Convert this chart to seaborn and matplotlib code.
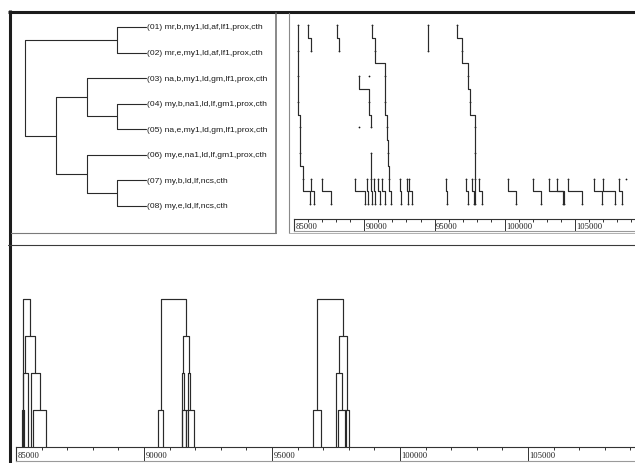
import numpy as np
import pandas as pd
import matplotlib
matplotlib.use("Agg")
import matplotlib.pyplot as plt
import seaborn as sns

# ---------------- data ----------------
seq_labels = [
    "(01) mr,b,my1,ld,af,lf1,prox,cth",
    "(02) mr,e,my1,ld,af,lf1,prox,cth",
    "(03) na,b,my1,ld,gm,lf1,prox,cth",
    "(04) my,b,na1,ld,lf,gm1,prox,cth",
    "(05) na,e,my1,ld,gm,lf1,prox,cth",
    "(06) my,e,na1,ld,lf,gm1,prox,cth",
    "(07) my,b,ld,lf,ncs,cth",
    "(08) my,e,ld,lf,ncs,cth",
]
seq_rows = [1, 2, 3, 4, 5, 6, 7, 8]
# merges: (child a, child b, height); new nodes numbered after leaves
seq_tree_merges = [(0, 1, 0.95), (3, 4, 0.95), (6, 7, 0.95), (2, 9, 1.94),
                   (5, 10, 1.94), (11, 12, 2.97), (8, 13, 4.0)]

# alignment traces: first row and genomic position in each consecutive row
trace_first_row = [1, 1, 1, 1, 1, 1, 3, 6, 3, 5,
                   7, 7, 7, 7, 7, 7, 7, 7, 7, 7, 7, 7, 7, 7, 7, 7, 7, 7, 7, 7, 7, 7, 7]
trace_positions = [
    [85264, 85264, 85264, 85264, 85430, 85430, 85640, 86142],
    [86021, 86214],
    [88092, 88213],
    [90546, 90783, 91500, 91500, 91620, 91700, 91760, 91920],
    [94520, 94560],
    [96617, 96973, 97400, 97520, 97900, 97900, 97900, 97900],
    [89591, 90305, 90498],
    [90498, 90498, 90520],
    [90360],
    [89591],
    [86214, 86450],
    [87021, 87642],
    [89355, 90069],
    [90191, 90262],
    [90662, 90733],
    [90976, 91140],
    [91262, 91447],
    [92568, 92640],
    [93047, 93118],
    [93211, 93404],
    [95781, 95903],
    [97209, 97374],
    [97688, 97802],
    [98159, 98402],
    [100187, 100779],
    [102030, 102560],
    [103157, 104114],
    [103707, 104207],
    [104492, 105456],
    [106370, 106884],
    [106970, 107848],
    [108134, 108312],
    [108584],
]

# cluster trees over genomic position (leaves in bp, merges with level)
clusterA_leaves = [85220, 85330, 85290, 85450, 85570, 85680, 86170]
clusterA_merges = [(0, 1, 1), (2, 3, 2), (5, 6, 1), (4, 9, 2), (8, 10, 3), (7, 11, 4)]
clusterB_leaves = [90550, 90750, 91470, 91640, 91660, 91960, 91465, 91720]
clusterB_merges = [(0, 1, 1), (2, 3, 1), (4, 5, 1), (6, 9, 2), (7, 10, 2), (11, 12, 3), (8, 13, 4)]
clusterC_leaves = [96590, 96910, 97500, 97590, 97880, 97870, 97990]
clusterC_merges = [(0, 1, 1), (3, 4, 1), (2, 8, 2), (5, 6, 1), (9, 10, 3), (7, 11, 4)]

scale_major = [85000, 90000, 95000, 100000, 105000]
scale_minor = list(range(85000, 110000, 1000))

# ---------------- helpers ----------------
W, H = 635, 464


def box(x0, y0, x1, y1):
    return [x0 / W, 1 - y1 / H, (x1 - x0) / W, (y1 - y0) / H]


def dendro_df(leaf_pos, merges, tag):
    pos = list(leaf_pos)
    hgt = [0.0] * len(leaf_pos)
    rows = []
    for k, (a, b, h) in enumerate(merges):
        for p in [(pos[a], hgt[a]), (pos[a], h), (pos[b], h), (pos[b], hgt[b])]:
            rows.append((f"{tag}{k}", p[0], p[1]))
        pos.append((pos[a] + pos[b]) / 2.0)
        hgt.append(h)
    return pd.DataFrame(rows, columns=["seg", "pos", "h"])


def trace_df(first_rows, positions):
    rows, dots = [], []
    for i, (r0, ps) in enumerate(zip(first_rows, positions)):
        for j, p in enumerate(ps):
            dots.append((p, r0 + j))
        if len(ps) < 2:
            continue
        pts = [(ps[0], r0)]
        for j in range(1, len(ps)):
            pts.append((ps[j - 1], r0 + j - 0.5))
            pts.append((ps[j], r0 + j - 0.5))
        pts.append((ps[-1], r0 + len(ps) - 1))
        for p in pts:
            rows.append((i, p[0], p[1]))
    return (pd.DataFrame(rows, columns=["tr", "pos", "row"]),
            pd.DataFrame(dots, columns=["pos", "row"]))


sns.set_style("white")
plt.rcParams["font.family"] = ["Liberation Sans", "DejaVu Sans"]

fig = plt.figure(figsize=(6.35, 4.64), dpi=100)
fig.patch.set_facecolor("white")

LINE = "#2a2a2a"

# ---------------- top-left: sequence dendrogram ----------------
ax_tree = fig.add_axes(box(11, 14, 275, 233))
ax_tree.patch.set_alpha(0)
df_tree = dendro_df(seq_rows, seq_tree_merges, "t")
sns.lineplot(data=df_tree, x="h", y="pos", units="seg", estimator=None, sort=False,
             color=LINE, lw=0.8, ax=ax_tree, legend=False)
px_per_h = 30.25
ax_tree.set_xlim(135 / px_per_h, -129 / px_per_h)
ax_tree.set_ylim(1 + 205 / 25.53, 1 - 14 / 25.53)
for r, lab in zip(seq_rows, seq_labels):
    ax_tree.annotate(lab, xy=(0, r), xytext=(0.8, 0), textcoords="offset points",
                     va="center", ha="left", fontsize=6.1, color="#1a1a1a",
                     family=["Liberation Sans", "DejaVu Sans"])
ax_tree.axis("off")

# ---------------- top-right: alignment traces ----------------
g_per_px_top = 5000 / 70.3
ax_tr = fig.add_axes(box(288, 14, 635, 220))
ax_tr.patch.set_alpha(0)
df_tr, df_dots = trace_df(trace_first_row, trace_positions)
sns.lineplot(data=df_tr, x="pos", y="row", units="tr", estimator=None, sort=False,
             color=LINE, lw=0.85, ax=ax_tr, legend=False)
sns.scatterplot(data=df_dots, x="pos", y="row", s=1.6, color="#111111",
                linewidth=0, ax=ax_tr, legend=False)
ax_tr.set_xlim(85000 - 6 * g_per_px_top, 85000 + 341 * g_per_px_top)
ax_tr.set_ylim(1 + (220 - 26) / 25.6, 1 + (14 - 26) / 25.6)
ax_tr.axis("off")


def scale_axis(ax, x_right_bp, major_len_pt):
    ax.set_xlim(85000, x_right_bp)
    ax.set_ylim(0, 1)
    ax.set_yticks([])
    ax.set_xticks(scale_major)
    ax.set_xticks(scale_minor, minor=True)
    ax.xaxis.set_ticks_position("top")
    ax.tick_params(axis="x", which="major", direction="in", length=major_len_pt,
                   width=0.7, color="#333333", labeltop=False, labelbottom=False)
    ax.tick_params(axis="x", which="minor", direction="in", length=2.3,
                   width=0.7, color="#333333")
    for s in ["top", "left"]:
        ax.spines[s].set_color("#333333")
        ax.spines[s].set_linewidth(0.8)
    ax.spines["bottom"].set_color("#9a9a9a")
    ax.spines["bottom"].set_linewidth(0.8)
    ax.spines["right"].set_visible(False)
    ax.set_xlabel("")
    for v in scale_major:
        ax.annotate(f"{v}", xy=(v, 0.45), xycoords=("data", "axes fraction"),
                    xytext=(1.0, 0), textcoords="offset points", va="center",
                    ha="left", fontsize=6.2, color="#222222",
                    family=["Liberation Serif", "DejaVu Serif"])


ax_s1 = fig.add_axes(box(294, 220, 635, 232))
ax_s1.patch.set_alpha(0)
scale_axis(ax_s1, 85000 + 341 * g_per_px_top, 8.6)

# ---------------- bottom: position cluster trees ----------------
g_per_px_bot = 5000 / 128.0
ax_cl = fig.add_axes(box(11, 246, 635, 448))
ax_cl.patch.set_alpha(0)
df_cl = pd.concat([dendro_df(clusterA_leaves, clusterA_merges, "a"),
                   dendro_df(clusterB_leaves, clusterB_merges, "b"),
                   dendro_df(clusterC_leaves, clusterC_merges, "c")])
sns.lineplot(data=df_cl, x="pos", y="h", units="seg", estimator=None, sort=False,
             color=LINE, lw=0.85, ax=ax_cl, legend=False)
ax_cl.set_xlim(85000 - 5 * g_per_px_bot, 85000 + 619 * g_per_px_bot)
ax_cl.set_ylim(0, (448 - 246) / 37.0)
ax_cl.axis("off")

ax_s2 = fig.add_axes(box(16, 448, 635, 462))
ax_s2.patch.set_alpha(0)
scale_axis(ax_s2, 85000 + 619 * g_per_px_bot, 10.0)

# ---------------- window frame ----------------
ax_bg = fig.add_axes([0, 0, 1, 1], zorder=10)
ax_bg.patch.set_alpha(0)
ax_bg.set_xlim(0, W)
ax_bg.set_ylim(H, 0)
ax_bg.axis("off")
ax_bg.plot([8, W], [12.5, 12.5], color="#1c1c1c", lw=2.2, solid_capstyle="butt")
ax_bg.plot([9.5, 9.5], [11, H], color="#1c1c1c", lw=2.2, solid_capstyle="butt")
ax_bg.plot([275.5, 275.5], [14, 233.5], color="#6a6a6a", lw=1.1)
ax_bg.plot([11, 275.5], [233.5, 233.5], color="#7a7a7a", lw=0.8)
ax_bg.plot([288.5, 288.5], [14, 233.5], color="#8a8a8a", lw=0.8)
ax_bg.plot([288.5, W], [233.5, 233.5], color="#b0b0b0", lw=0.7)
ax_bg.plot([8, W], [246, 246], color="#3a3a3a", lw=0.8)

fig.savefig("out.png", dpi=100, facecolor="white")
